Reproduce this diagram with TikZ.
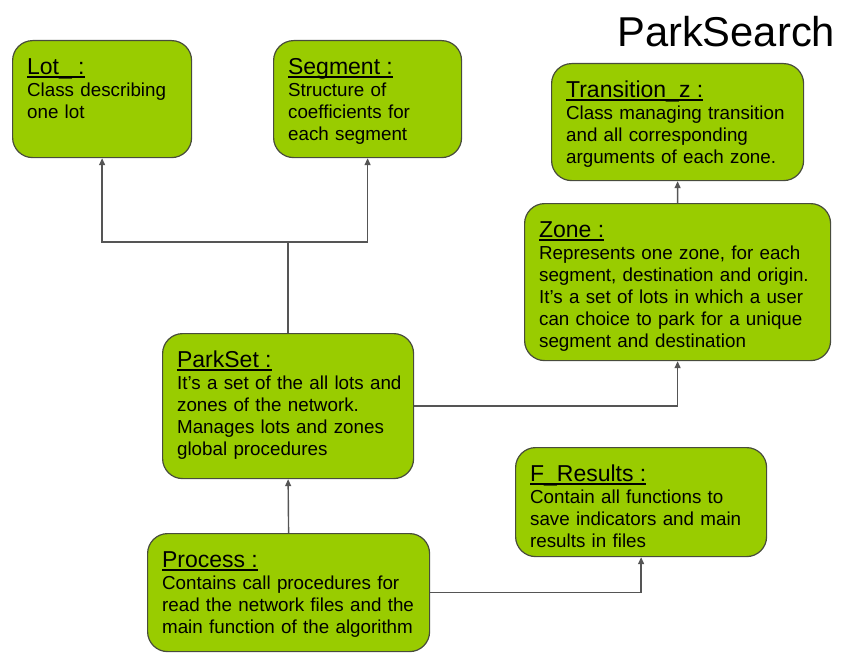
\documentclass[tikz,border=0pt]{standalone}
\usepackage{fontspec}
\setmainfont{Liberation Sans}
\usetikzlibrary{arrows.meta, positioning}

\definecolor{boxGreen}{RGB}{153,204,0}
\definecolor{boxEdge}{RGB}{72,76,60}
\definecolor{linkGray}{RGB}{85,85,85}

% underlined box title
\newcommand{\boxTitle}[1]{{\fontsize{23bp}{26bp}\selectfont\rule{0pt}{17bp}\rlap{#1}\setbox0=\hbox{#1}\rule[-3bp]{\wd0}{1.2bp}}}

\begin{document}
\begin{tikzpicture} [
                x=1bp, y=-1bp,
                box/.style={draw=boxEdge, line width=1.2bp, fill=boxGreen, rounded corners=20bp, anchor=north west, align=left, inner xsep=14.5bp, inner ysep=17bp, font=\fontsize{18.8bp}{22bp}\selectfont},
                arrow/.style={-{Triangle[length=7bp,width=6bp]}, draw=linkGray, line width=1.4bp}
            ]
            \useasboundingbox (0,0) rectangle (841,653);

            % Title
            \node[anchor=base west, inner sep=0pt, font=\fontsize{41.7bp}{48bp}\selectfont] (heading) at (617,47) {ParkSearch};

            % Classes
            \node[box, text width=150bp, text depth=66bp] (lot) at (12,40) {\boxTitle{Lot\_ :}\\Class describing\\one lot};
            \node[box, text width=159bp, text depth=66bp] (segment) at (273,40) {\boxTitle{Segment :}\\Structure of\\coefficients for\\each segment};
            \node[box, text width=223bp, text depth=66bp] (transition) at (551,63) {\boxTitle{Transition\_z :}\\Class managing transition\\and all corresponding\\arguments of each zone.};
            \node[box, text width=277bp, text depth=106bp] (zone) at (524,203) {\boxTitle{Zone :}\\\mbox{Represents one zone, for each}\\\mbox{segment, destination and origin.}\\\mbox{It’s a set of lots in which a user}\\\mbox{can choice to park for a unique}\\segment and destination};
            \node[box, text width=222bp, text depth=94bp] (parkSet) at (162,333) {\boxTitle{ParkSet :}\\\mbox{It’s a set of the all lots and}\\zones of the network.\\Manages lots and zones\\global procedures};
            \node[box, text width=222bp, text depth=58bp] (fResults) at (515,447) {\boxTitle{F\_Results :}\\Contain all functions to\\save indicators and main\\results in files};
            \node[box, text width=253bp, text depth=67bp] (process) at (147,533) {\boxTitle{Process :}\\\mbox{Contains call procedures for}\\\mbox{read the network files and the}\\\mbox{main function of the algorithm}};

            % Connections
            \draw[arrow] (parkSet.north) -- ++(0,-91) -| (lot.south);
            \draw[arrow] (parkSet.north) -- ++(0,-91) -| (segment.south);
            \draw[arrow] (zone.north) -- (transition.south);
            \draw[arrow] (parkSet.east) -| (zone.south);
            \draw[arrow] (process.north) -- (parkSet.south);
            \draw[arrow] (process.east) -| (fResults.south);
        \end{tikzpicture}
\end{document}
